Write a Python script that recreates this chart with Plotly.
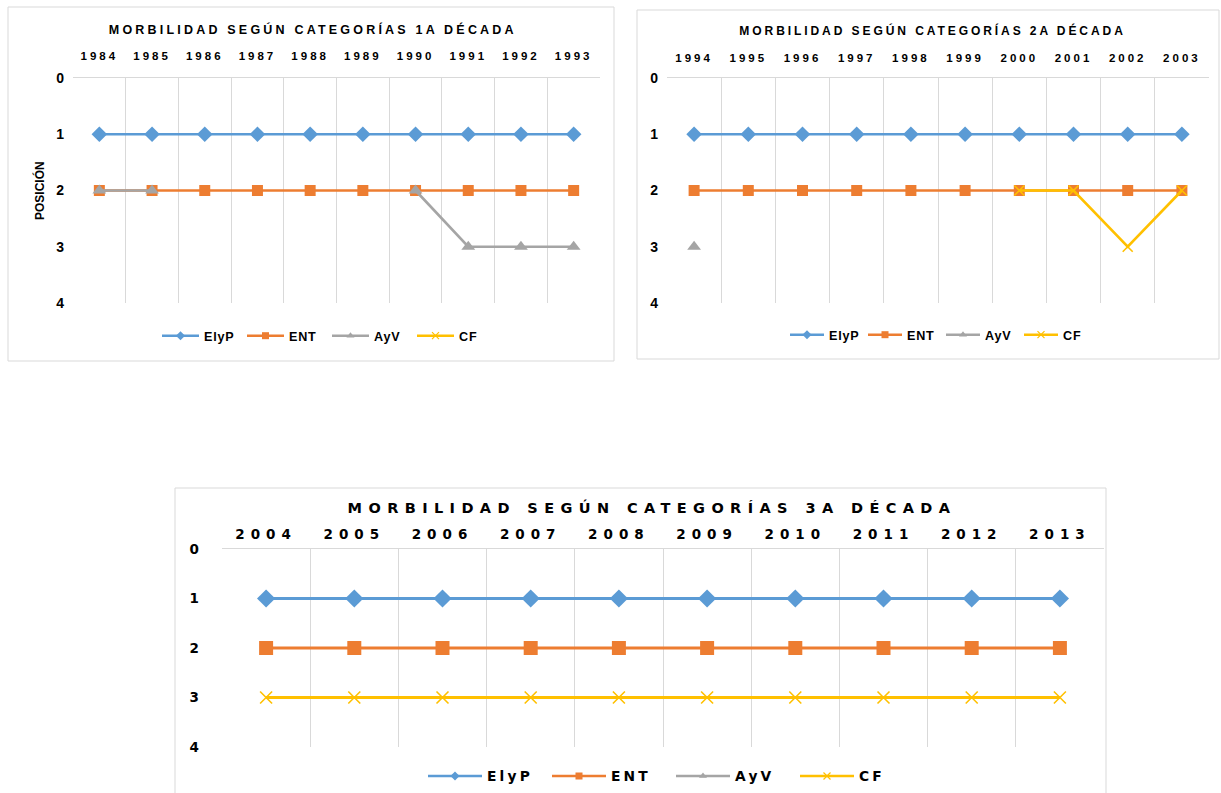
import plotly.graph_objects as go

W, H = 1221, 793

# ---- data -------------------------------------------------------------
years_1 = ["1984", "1985", "1986", "1987", "1988", "1989", "1990", "1991", "1992", "1993"]
years_2 = ["1994", "1995", "1996", "1997", "1998", "1999", "2000", "2001", "2002", "2003"]
years_3 = ["2004", "2005", "2006", "2007", "2008", "2009", "2010", "2011", "2012", "2013"]

elyp_1 = [1, 1, 1, 1, 1, 1, 1, 1, 1, 1]
ent_1 = [2, 2, 2, 2, 2, 2, 2, 2, 2, 2]
ayv_1 = [2, 2, None, None, None, None, 2, 3, 3, 3]
cf_1 = [None] * 10

elyp_2 = [1, 1, 1, 1, 1, 1, 1, 1, 1, 1]
ent_2 = [2, 2, 2, 2, 2, 2, 2, 2, 2, 2]
ayv_2 = [3, None, None, None, None, None, None, None, None, None]
cf_2 = [None, None, None, None, None, None, 2, 2, 3, 2]

elyp_3 = [1, 1, 1, 1, 1, 1, 1, 1, 1, 1]
ent_3 = [2, 2, 2, 2, 2, 2, 2, 2, 2, 2]
ayv_3 = [None] * 10
cf_3 = [3, 3, 3, 3, 3, 3, 3, 3, 3, 3]

series_names = ["ElyP", "ENT", "AyV", "CF"]
titles = [
    "MORBILIDAD SEGÚN CATEGORÍAS 1A DÉCADA",
    "MORBILIDAD SEGÚN CATEGORÍAS 2A DÉCADA",
    "MORBILIDAD SEGÚN CATEGORÍAS 3A DÉCADA",
]
y_ticks = [0, 1, 2, 3, 4]
y_title = "POSICIÓN"

# ---- styling ----------------------------------------------------------
COLORS = {"ElyP": "#5B9BD5", "ENT": "#ED7D31", "AyV": "#A5A5A5", "CF": "#FFC000"}
SYMBOLS = {"ElyP": "diamond", "ENT": "square", "AyV": "triangle-up", "CF": "x-thin"}
GRID = "#D9D9D9"
ARIAL = "Liberation Sans, Arial, sans-serif"
WIDE = "DejaVu Sans, sans-serif"


def px_x(p):
    return p / W


def px_y(p):
    return 1 - p / H


panels = [
    dict(years=years_1, data=[elyp_1, ent_1, ayv_1, cf_1], xd=(73, 600), yd=(78, 303),
         msize=[12, 11, 12, 10], lw=2.6, legend="legend", font=ARIAL,
         tick_fs=11.5, ytick_fs=14, title_fs=12.5, title_xy=(313, 30),
         xstand=12, ystand=8),
    dict(years=years_2, data=[elyp_2, ent_2, ayv_2, cf_2], xd=(667, 1209), yd=(78, 303),
         msize=[12, 11, 12, 10], lw=2.6, legend="legend2", font=ARIAL,
         tick_fs=11.5, ytick_fs=14, title_fs=12.05, title_xy=(932, 31),
         xstand=10, ystand=8),
    dict(years=years_3, data=[elyp_3, ent_3, ayv_3, cf_3], xd=(222, 1104), yd=(549, 747),
         msize=[14, 14, 14, 12], lw=2.8, legend="legend3", font=WIDE,
         tick_fs=13.5, ytick_fs=13.5, title_fs=14.5, title_xy=(652, 507),
         xstand=4, ystand=16),
]

fig = go.Figure()
layout_axes = {}
annotations = []

for i, p in enumerate(panels):
    n = "" if i == 0 else str(i + 1)
    xa, ya = "x" + n, "y" + n
    for k, name in enumerate(series_names):
        col = COLORS[name]
        sym = SYMBOLS[name]
        marker = dict(symbol=sym, size=p["msize"][k], color=col)
        if sym == "x-thin":
            marker["line"] = dict(color=col, width=1.6)
        fig.add_trace(go.Scatter(
            x=p["years"], y=p["data"][k], name=name, mode="lines+markers",
            line=dict(color=col, width=p["lw"]), marker=marker,
            xaxis=xa, yaxis=ya, showlegend=False, hoverinfo="skip",
        ))
    # legend entries with small symbols
    for name in series_names:
        col = COLORS[name]
        sym = SYMBOLS[name]
        marker = dict(symbol=sym, size=7, color=col)
        if sym == "x-thin":
            marker["line"] = dict(color=col, width=1.2)
        fig.add_trace(go.Scatter(
            x=[None], y=[None], name=name, mode="lines+markers",
            line=dict(color=col, width=2.5), marker=marker,
            xaxis=xa, yaxis=ya, legend=p["legend"], showlegend=True,
        ))

    layout_axes["xaxis" + n] = dict(
        type="category", side="top", anchor=ya,
        domain=[px_x(p["xd"][0]), px_x(p["xd"][1])],
        range=[-0.5, 9.5], tickson="boundaries",
        showgrid=True, gridcolor=GRID, gridwidth=1,
        showline=True, linecolor=GRID, linewidth=1,
        ticks="", ticklabelstandoff=p["xstand"],
        tickfont=dict(family=p["font"], size=p["tick_fs"], color="#000", weight="bold"),
        fixedrange=True,
    )
    layout_axes["yaxis" + n] = dict(
        anchor=xa, domain=[px_y(p["yd"][1]), px_y(p["yd"][0])],
        range=[4, 0], tickvals=y_ticks, ticktext=[str(t) for t in y_ticks],
        showgrid=False, zeroline=False, showline=False, ticks="",
        ticklabelstandoff=p["ystand"],
        tickfont=dict(family=p["font"], size=p["ytick_fs"], color="#000", weight="bold"),
        fixedrange=True,
    )
    annotations.append(dict(
        text=titles[i], x=px_x(p["title_xy"][0]), y=px_y(p["title_xy"][1]),
        xref="paper", yref="paper", xanchor="center", yanchor="middle", showarrow=False,
        font=dict(family=p["font"], size=p["title_fs"], color="#000", weight="bold"),
    ))

annotations.append(dict(
    text=y_title, x=px_x(39), y=px_y(191), xref="paper", yref="paper",
    xanchor="center", yanchor="middle", showarrow=False, textangle=-90,
    font=dict(family=ARIAL, size=12, color="#000", weight="bold"),
))

# chart frames
boxes = [(8, 7, 614, 361), (637, 10, 1219, 359), (175, 488, 1106, 800)]
shapes = [dict(type="rect", xref="paper", yref="paper",
               x0=px_x(a), x1=px_x(c), y0=px_y(d), y1=px_y(b),
               line=dict(color=GRID, width=1), fillcolor="rgba(0,0,0,0)", layer="below")
          for a, b, c, d in boxes]

legend_common = dict(orientation="h", xanchor="center", yanchor="middle",
                     bgcolor="rgba(0,0,0,0)", borderwidth=0, tracegroupgap=0)

fig.update_layout(
    width=W, height=H, margin=dict(l=0, r=0, t=0, b=0, autoexpand=False),
    paper_bgcolor="white", plot_bgcolor="white",
    annotations=annotations, shapes=shapes,
    legend=dict(x=px_x(327), y=px_y(336), itemwidth=37, entrywidth=33,
                font=dict(family=ARIAL, size=12.6, color="#000", weight="bold"), **legend_common),
    legend2=dict(x=px_x(941), y=px_y(335), itemwidth=34, entrywidth=29,
                 font=dict(family=ARIAL, size=12.6, color="#000", weight="bold"), **legend_common),
    legend3=dict(x=px_x(671), y=px_y(776), itemwidth=54, entrywidth=55,
                 font=dict(family=WIDE, size=13.8, color="#000", weight="bold"), **legend_common),
    **layout_axes,
)

# character spacing for the headings, year labels and legend entries
css = (
    'text[style*="font-size: 12.5px"]{letter-spacing:3.2px}'
    'text[style*="font-size: 12.05px"]{letter-spacing:2.9px}'
    'text[style*="font-size: 11.5px"]{letter-spacing:3px}'
    'text[style*="font-size: 14.5px"]{letter-spacing:6.4px}'
    'text[style*="font-size: 13.5px"]{letter-spacing:6px}'
    'text[style*="font-size: 12.6px"]{letter-spacing:0.8px}'
    'text[style*="font-size: 13.8px"]{letter-spacing:3.2px}'
)
post = ("var s=document.createElement('style');s.textContent='" + css +
        "';document.head.appendChild(s);")

fig.write_html("out.html", post_script=post, config={"displayModeBar": False})
